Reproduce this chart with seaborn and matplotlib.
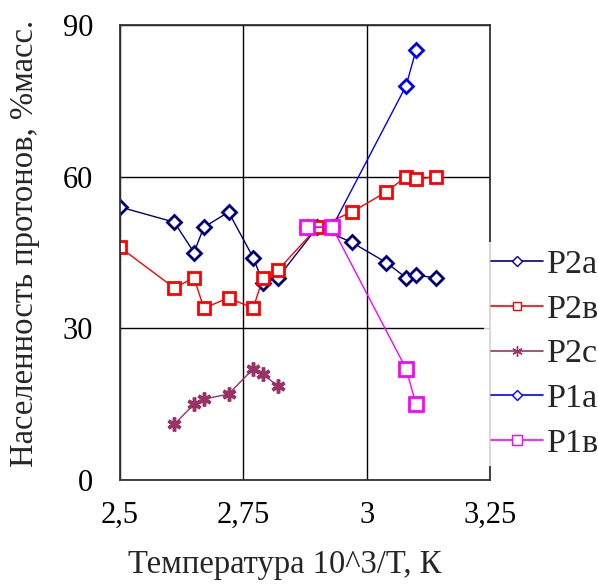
import numpy as np
import pandas as pd
import matplotlib
matplotlib.use("Agg")
import matplotlib.pyplot as plt
from matplotlib.lines import Line2D
import seaborn as sns

# data
p2a_x = [2.50, 2.61, 2.65, 2.67, 2.72, 2.77, 2.79, 2.82, 2.90, 2.97, 3.04, 3.08, 3.10, 3.14]
p2a_y = [54.0, 51.0, 45.0, 50.0, 53.0, 44.0, 39.0, 40.0, 50.0, 47.0, 43.0, 40.0, 40.5, 40.0]

p2v_x = [2.50, 2.61, 2.65, 2.67, 2.72, 2.77, 2.79, 2.82, 2.90, 2.97, 3.04, 3.08, 3.10, 3.14]
p2v_y = [46.0, 38.0, 40.0, 34.0, 36.0, 34.0, 40.0, 41.5, 50.0, 53.0, 57.0, 60.0, 59.5, 60.0]

p2c_x = [2.61, 2.65, 2.67, 2.72, 2.77, 2.79, 2.82]
p2c_y = [11.0, 15.0, 16.0, 17.0, 22.0, 21.0, 18.5]

p1a_x = [2.88, 2.93, 3.08, 3.10]
p1a_y = [50.0, 50.0, 78.0, 85.0]

p1v_x = [2.88, 2.93, 3.08, 3.10]
p1v_y = [50.0, 50.0, 22.0, 15.0]

series_names = ["P2a", "P2в", "P2c", "P1a", "P1в"]
x_ticks = [2.5, 2.75, 3.0, 3.25]
x_tick_labels = ["2,5", "2,75", "3", "3,25"]
y_ticks = [0, 30, 60, 90]

sns.set_style("white")
plt.rcParams["font.family"] = ["Liberation Serif", "DejaVu Serif"]
plt.rcParams["font.size"] = 22

fig = plt.figure(figsize=(5.98, 5.84), dpi=100)
ax = fig.add_axes([120 / 598, 104 / 584, 370 / 598, 455 / 584])

styles = {
    "P2a": dict(color="#000080", marker="D", ms=7, mew=2.0, mfc="white"),
    "P2в": dict(color="#FF0000", marker="s", ms=8.5, mew=2.0, mfc="white"),
    "P2c": dict(color="#993366", marker=(6, 2, 0), ms=10, mew=2.5),
    "P1a": dict(color="#0000FF", marker="D", ms=7, mew=2.0, mfc="white"),
    "P1в": dict(color="#FF00FF", marker="s", ms=9.5, mew=2.0, mfc="white"),
}
all_x = [p2a_x, p2v_x, p2c_x, p1a_x, p1v_x]
all_y = [p2a_y, p2v_y, p2c_y, p1a_y, p1v_y]

for name, xs, ys in zip(series_names, all_x, all_y):
    df = pd.DataFrame({"T": xs, "val": ys})
    st = styles[name]
    sns.lineplot(data=df, x="T", y="val", ax=ax, sort=False, estimator=None,
                 color=st["color"], marker=st["marker"], markersize=st["ms"],
                 markeredgewidth=st["mew"], markeredgecolor=st["color"],
                 markerfacecolor=st.get("mfc", st["color"]),
                 linewidth=1.0, legend=False)

ax.set_xlim(2.5, 3.25)
ax.set_ylim(0, 90)
ax.set_xticks(x_ticks)
ax.set_xticklabels(x_tick_labels)
ax.set_yticks(y_ticks)
ax.grid(True, color="black", linewidth=1.0)
ax.set_axisbelow(True)
for sp in ax.spines.values():
    sp.set_color("#333333")
    sp.set_linewidth(1.3)
ax.tick_params(axis="x", direction="out", length=8, width=1.2, pad=7, colors="black")
ax.tick_params(axis="y", direction="out", length=6.5, width=1.2, pad=13, colors="black")

ax.set_xlabel("Температура 10^3/T, К", fontsize=23.5)
ax.set_ylabel("Населенность протонов, %масс.", fontsize=23.5)
ax.xaxis.set_label_coords(0.446, -0.152)
ax.yaxis.set_label_coords(-0.215, 0.52)

# small legend keys like the reference
handles = []
for name in series_names:
    st = styles[name]
    handles.append(Line2D([], [], color=st["color"], linewidth=1.2,
                          marker=st["marker"], markersize=st["ms"] * 0.75,
                          markeredgewidth=1.0, markeredgecolor=st["color"],
                          markerfacecolor="white"))
leg = fig.legend(handles, series_names, loc="center left",
                 bbox_to_anchor=(484 / 598, 1 - 354 / 584),
                 frameon=True, facecolor="white", edgecolor="none",
                 fancybox=False, fontsize=24.5, handlelength=1.53,
                 handletextpad=0.12, labelspacing=0.41, borderpad=0.2,
                 borderaxespad=0)

fig.savefig("out.png", dpi=100)
